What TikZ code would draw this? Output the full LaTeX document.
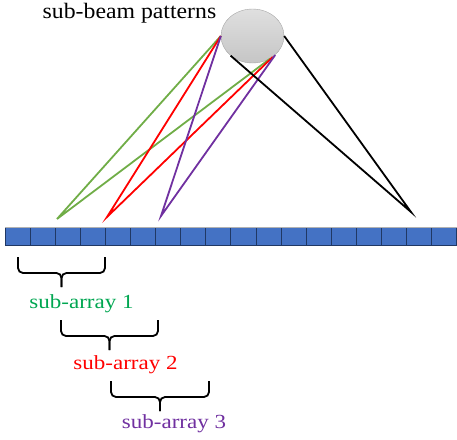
\documentclass[tikz,border=0pt]{standalone}
\usepackage{fontspec}
\setmainfont{Liberation Serif}
\usetikzlibrary{positioning,shapes.geometric}
\definecolor{arrayblue}{HTML}{4472C4}
\definecolor{arrayedge}{HTML}{203864}
\definecolor{linegreen}{HTML}{70AD47}
\definecolor{textgreen}{HTML}{00A651}
\definecolor{subpurple}{HTML}{7030A0}

\begin{document}
\begin{tikzpicture}[x=1pt,y=-1pt,
  elem/.style={draw=arrayedge, line width=1pt, fill=arrayblue, minimum width=25.1pt, minimum height=18pt, inner sep=0pt, outer sep=0pt},
  beam/.style={ellipse, draw=gray!70, top color=gray!25, bottom color=gray!45, minimum width=63pt, minimum height=54pt, inner sep=0pt},
  ray/.style={line width=1.8pt},
  brace line/.style={line width=1.8pt, rounded corners=5pt},
  sublabel/.style={font=\fontsize{20}{24}\selectfont, xscale=1.15, anchor=base, inner sep=0pt}]
  \useasboundingbox (0,0) rectangle (457,439);
  % antenna array
  \foreach \i in {1,...,18}
    \node[elem] (e\i) at ({5+12.55+25.1*(\i-1)},236) {};
  \draw[gray!60, line width=0.8pt] (e1.north west) -- (e18.north east);
  % sub-beam patterns
  \node[beam] (beam) at (252.5,36) {};
  \node[font=\fontsize{22}{26}\selectfont, xscale=1.08, anchor=base, inner sep=0pt] (title) at (129.5,18) {sub-beam patterns};
  % ray ends above the array
  \coordinate (g) at (57,219);
  \coordinate (r) at (107,217);
  \coordinate (p) at (161,216);
  \coordinate (k) at (411,212);
  \draw[ray, linegreen] (beam.west) -- (g) -- (beam.-52);
  \draw[ray, red] (beam.west) -- (r) -- (beam.-46);
  \draw[ray, subpurple] (beam.west) -- (p) -- (beam.-40);
  \draw[ray, black] (beam.-138) -- (k) -- (beam.east);
  % sub-array braces
  \foreach \l/\r/\t/\n/\c/\lx/\ly in {18/105/257/1/textgreen/81.5/308, 61/158/320/2/red/125.5/369, 111/209/381/3/subpurple/174/428}{
    \coordinate (tip\n) at ({(\l+\r)/2},\t+30);
    \draw[brace line] (\l,\t) -- (\l,\t+16) -- ({(\l+\r)/2},\t+16) -- (tip\n);
    \draw[brace line] (\r,\t) -- (\r,\t+16) -- ({(\l+\r)/2},\t+16) -- (tip\n);
    \node[sublabel, text=\c] (sub\n) at (\lx,\ly) {sub-array \n};
  }
\end{tikzpicture}
\end{document}
